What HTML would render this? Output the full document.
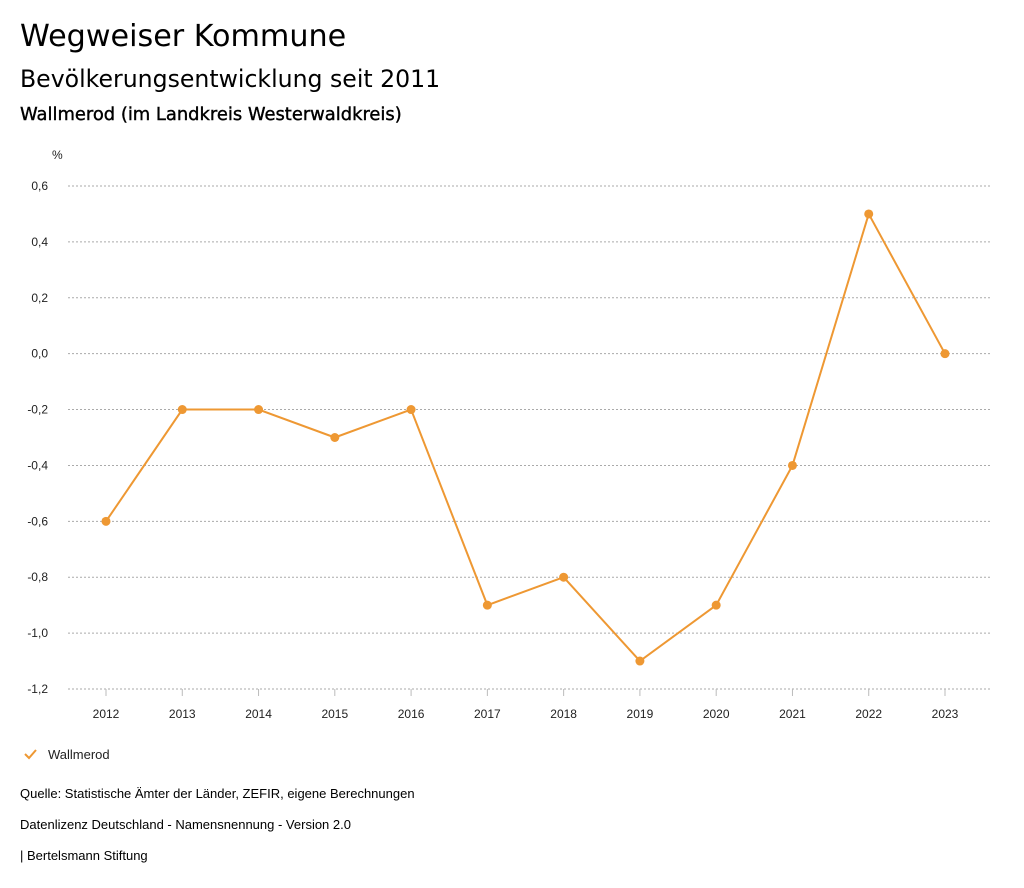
<!DOCTYPE html>
<html><head><meta charset="utf-8"><style>
body{margin:0;background:#fff;width:1024px;height:888px;overflow:hidden;font-family:"Liberation Sans","DejaVu Sans",sans-serif;color:#000}
.t{position:absolute;white-space:nowrap}
</style></head><body>
<div class="t" style="left:20px;top:19px;font-size:30.2px;font-family:'DejaVu Sans',sans-serif">Wegweiser Kommune</div>
<div class="t" style="left:20px;top:65px;font-size:23.6px;font-family:'DejaVu Sans',sans-serif">Bevölkerungsentwicklung seit 2011</div>
<div class="t" style="left:20px;top:104px;font-size:17.9px;-webkit-text-stroke:0.4px #000;font-family:'DejaVu Sans',sans-serif">Wallmerod (im Landkreis Westerwaldkreis)</div>
<svg id="c" width="1024" height="888" style="position:absolute;left:0;top:0" font-family="Liberation Sans, sans-serif"></svg>
<div class="t" style="left:20px;top:786px;font-size:13px">Quelle: Statistische Ämter der Länder, ZEFIR, eigene Berechnungen</div>
<div class="t" style="left:20px;top:817px;font-size:13px">Datenlizenz Deutschland - Namensnennung - Version 2.0</div>
<div class="t" style="left:20px;top:848px;font-size:13px">| Bertelsmann Stiftung</div>
<script>
const years=["2012","2013","2014","2015","2016","2017","2018","2019","2020","2021","2022","2023"];
const values=[-0.6,-0.2,-0.2,-0.3,-0.2,-0.9,-0.8,-1.1,-0.9,-0.4,0.5,0.0];
const yTicks=[0.6,0.4,0.2,0.0,-0.2,-0.4,-0.6,-0.8,-1.0,-1.2];
const NS="http://www.w3.org/2000/svg";
const svg=document.getElementById('c');
const col="#ee9833";
function X(i){return 106+i*(945-106)/(years.length-1);}
function Y(v){return 186+(0.6-v)*(689-186)/1.8;}
function mk(t,a){const e=document.createElementNS(NS,t);for(const k in a)e.setAttribute(k,a[k]);svg.appendChild(e);return e;}
const u=mk('text',{x:52,y:159,'font-size':12,fill:'#222'});u.textContent='%';


yTicks.forEach(v=>{
 const g=mk('line',{x1:68,x2:990,y1:Y(v),y2:Y(v),stroke:'#aaa','stroke-dasharray':'2,2'});
 
 
 const t=mk('text',{x:48,y:Y(v)+4,'text-anchor':'end','font-size':12,fill:'#222'});
 t.textContent=v.toFixed(1).replace('.',',');
 
 
});
years.forEach((y,i)=>{
 const l=mk('line',{x1:X(i),x2:X(i),y1:689,y2:696,stroke:'#bbb'});
 
 
 const t=mk('text',{x:X(i),y:718,'text-anchor':'middle','font-size':12,fill:'#222'});
 t.textContent=y;
 
 
});
const p=mk('polyline',{points:values.map((v,i)=>X(i)+','+Y(v)).join(' '),fill:'none',stroke:col,'stroke-width':2});


values.forEach((v,i)=>{
 const c=mk('circle',{cx:X(i),cy:Y(v),r:4.5,fill:col});
 
 
});
const lg=mk('polyline',{points:'25,754 29,758 36,750',fill:'none',stroke:col,'stroke-width':2});


const lt=mk('text',{x:48,y:759,'font-size':13,fill:'#222'});
lt.textContent='Wallmerod';


</script>
</body></html>
